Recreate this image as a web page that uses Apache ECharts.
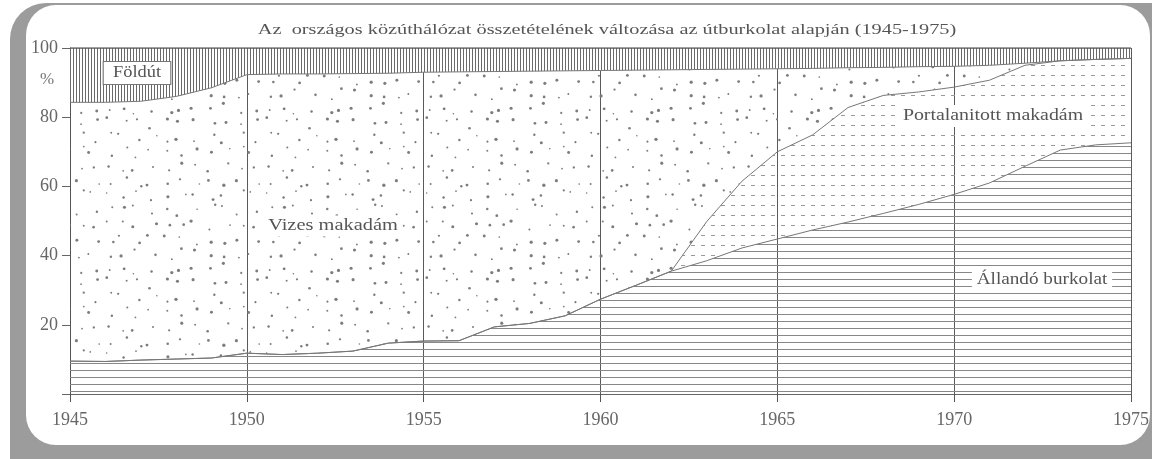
<!DOCTYPE html>
<html>
<head>
<meta charset="utf-8">
<script src="https://cdn.jsdelivr.net/npm/echarts@6/dist/echarts.min.js"></script>
<style>
  html, body { margin: 0; padding: 0; background: #fff; }
  #chart { width: 1152px; height: 459px; }
</style>
</head>
<body>
<div id="chart"></div>
<script>
// évek
const years = ["1945", "1946", "1947", "1948", "1949", "1950", "1951", "1952", "1953", "1954",
  "1955", "1956", "1957", "1958", "1959", "1960", "1961", "1962", "1963", "1964",
  "1965", "1966", "1967", "1968", "1969", "1970", "1971", "1972", "1973", "1974", "1975"];

// rétegek (%), alulról felfelé
const allando = [9.5, 9.4, 9.8, 10.1, 10.4, 11.8, 11.4, 11.8, 12.4, 14.7,
  15.3, 15.4, 19.4, 20.4, 22.6, 27.4, 31.4, 35.5, 38.5, 42.2,
  44.8, 47.4, 49.7, 52.2, 54.8, 57.7, 61.0, 65.8, 70.5, 72.0, 72.6];
const portalanitott = [0, 0, 0, 0, 0, 0, 0, 0, 0, 0,
  0, 0, 0, 0, 0, 0, 0, 0, 11.3, 19.3,
  25.2, 27.5, 33.1, 34.1, 32.5, 31.0, 29.7, 29.2, 25.8, 24.7, 24.4];
const vizes = [74.8, 74.9, 74.8, 75.9, 78.1, 80.5, 81.1, 80.7, 80.2, 78.0,
  77.7, 77.7, 73.8, 72.9, 70.8, 66.1, 62.2, 58.2, 44.0, 32.4,
  24.0, 19.2, 11.5, 8.1, 7.3, 6.0, 4.3, 0.6, 0, 0, 0];
const foldut = [15.7, 15.7, 15.4, 14.0, 11.5, 7.7, 7.5, 7.5, 7.4, 7.3,
  7.0, 6.9, 6.8, 6.7, 6.6, 6.5, 6.4, 6.3, 6.2, 6.1,
  6.0, 5.9, 5.7, 5.6, 5.4, 5.3, 5.0, 4.4, 3.7, 3.3, 3.0];

const serif = '"Liberation Serif", "DejaVu Serif", serif';

// mintázatok a területekhez
function makePattern(w, h, draw) {
  const c = document.createElement("canvas");
  c.width = w;
  c.height = h;
  draw(c.getContext("2d"));
  return { image: c, repeat: "repeat" };
}

const hLines = makePattern(8, 7, (ctx) => {
  ctx.fillStyle = "#888";
  ctx.fillRect(0, 6, 8, 1);
});

const dashes = makePattern(10, 10, (ctx) => {
  ctx.fillStyle = "#999";
  ctx.fillRect(1, 5, 4, 1);
});

const dots = makePattern(160, 160, (ctx) => {
  const h = (n) => {
    const s = Math.sin(n * 12.9898 + 78.233) * 43758.5453;
    return s - Math.floor(s);
  };
  ctx.fillStyle = "#7c7c7c";
  let k = 0;
  for (let gy = 0; gy < 11; gy++) {
    for (let gx = 0; gx < 11; gx++) {
      k++;
      const x = (gx * 14.55 + 1 + h(k) * 11) % 160;
      const y = (gy * 14.55 + 1 + h(k + 500) * 11) % 160;
      const r = 0.8 + h(k + 900) * 0.9;
      ctx.beginPath();
      ctx.arc(x, y, r, 0, Math.PI * 2);
      ctx.fill();
    }
  }
});

const vLines = makePattern(3, 4, (ctx) => {
  ctx.fillStyle = "#fff";
  ctx.fillRect(0, 0, 3, 4);
  ctx.fillStyle = "#6a6a6a";
  ctx.fillRect(1, 0, 1, 4);
});

function layer(name, values, pattern, lineColor, lineWidth) {
  return {
    name: name,
    type: "line",
    stack: "total",
    symbol: "none",
    silent: true,
    data: values,
    lineStyle: { color: lineColor || "#777", width: lineWidth || 1 },
    areaStyle: { color: pattern, opacity: 1 },
  };
}

function textEl(text, x, y, size, sx, extra) {
  return {
    type: "text",
    z: 100,
    x: x,
    y: y,
    scaleX: sx,
    style: Object.assign(
      {
        text: text,
        font: size + "px " + serif,
        fill: "#555",
        align: "center",
        verticalAlign: "middle",
      },
      extra || {}
    ),
  };
}

const chart = echarts.init(document.getElementById("chart"));

chart.setOption({
  backgroundColor: "#fff",
  animation: false,
  grid: { left: 70, right: 20, top: 48, bottom: 65 },
  xAxis: {
    type: "category",
    data: years,
    boundaryGap: false,
    axisLine: { show: true, lineStyle: { color: "#666", width: 1 } },
    axisTick: { show: true, interval: 4, length: 8, lineStyle: { color: "#555" } },
    axisLabel: {
      interval: 4,
      fontFamily: serif,
      fontSize: 18,
      color: "#666",
      margin: 17,
    },
    splitLine: { show: true, interval: 4, lineStyle: { color: "#5a5a5a", width: 1 } },
  },
  yAxis: {
    type: "value",
    min: 0,
    max: 100,
    interval: 20,
    axisLine: { show: true, lineStyle: { color: "#555", width: 1 } },
    axisTick: { show: true, length: 8, lineStyle: { color: "#666" } },
    axisLabel: {
      fontFamily: serif,
      fontSize: 18,
      color: "#666",
      margin: 12,
      formatter: (v) => (v === 0 ? "" : String(v)),
    },
    splitLine: { show: false },
  },
  series: [
    layer("Állandó burkolat", allando, hLines),
    layer("Portalanitott makadám", portalanitott, dashes),
    layer("Vizes makadám", vizes, dots),
    layer("Földút", foldut, vLines, "#555", 1.5),
  ],
  graphic: [
    // keret
    {
      type: "rect",
      z: -100,
      shape: { x: 10, y: 3, width: 1200, height: 500, r: 36 },
      style: { fill: "#9c9c9c" },
    },
    {
      type: "rect",
      z: -99,
      shape: { x: 26, y: 5, width: 1124, height: 440, r: 30 },
      style: { fill: "#fff" },
    },
    textEl("Az  országos közúthálózat összetételének változása az útburkolat alapján (1945-1975)",
      607, 30, 14, 1.45),
    textEl("%", 47, 80, 17, 1, { fill: "#777" }),
    textEl("Földút", 137, 73, 16, 1.15, {
      backgroundColor: "#fff",
      borderColor: "#777",
      borderWidth: 1,
      padding: [3, 8, 3, 8],
    }),
    textEl("Vizes makadám", 333, 226, 17, 1.2, {
      backgroundColor: "#fff",
      padding: [2, 4, 2, 4],
    }),
    textEl("Portalanitott makadám", 993, 116, 16, 1.24, {
      backgroundColor: "#fff",
      padding: [3, 4, 3, 4],
    }),
    textEl("Állandó burkolat", 1042, 280, 16, 1.2, {
      backgroundColor: "#fff",
      padding: [3, 4, 3, 4],
    }),
  ],
});
</script>
</body>
</html>
